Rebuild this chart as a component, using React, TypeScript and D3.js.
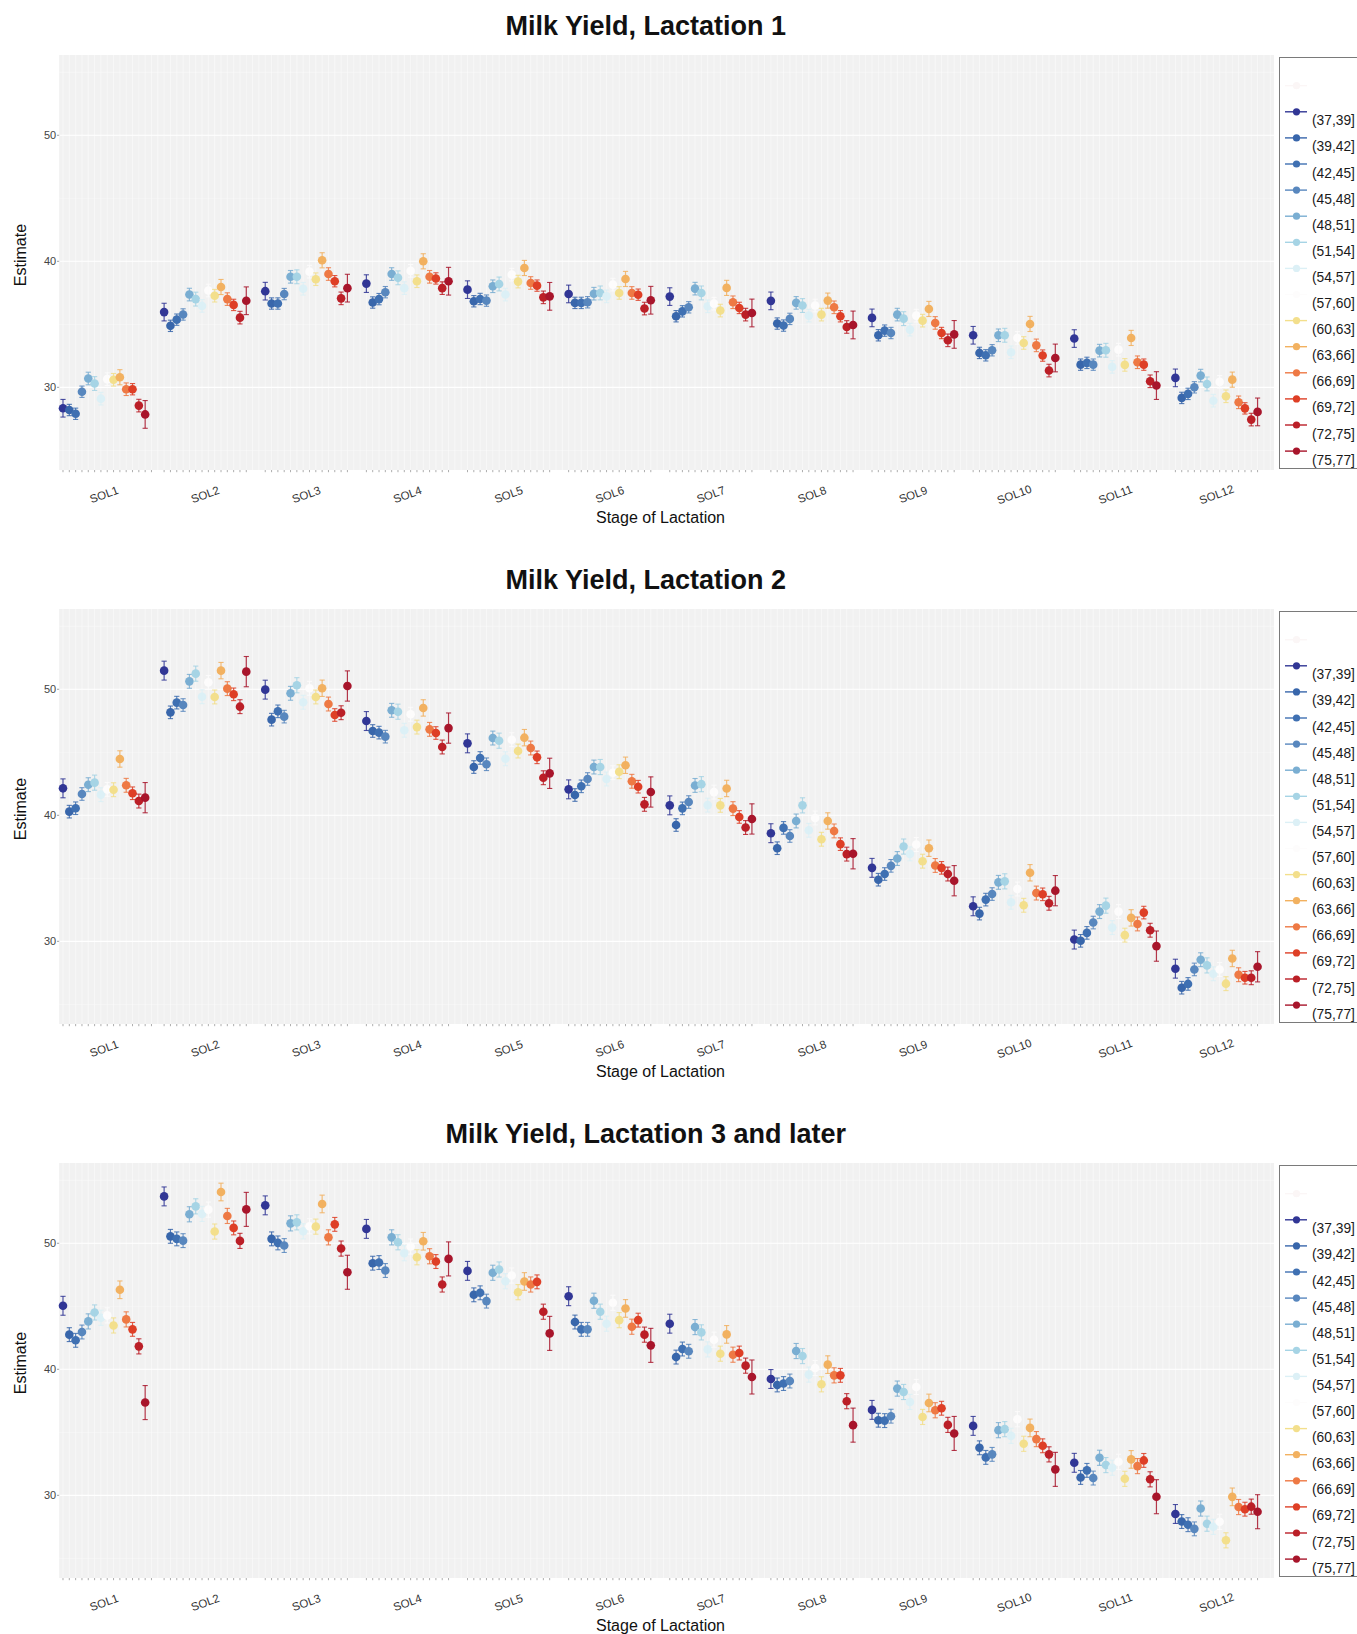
import React from "react";
import * as d3 from "d3";

// stage-of-lactation groups and THI classes
const solLabels = ["SOL1", "SOL2", "SOL3", "SOL4", "SOL5", "SOL6", "SOL7", "SOL8", "SOL9", "SOL10", "SOL11", "SOL12"];
const thiLabels = ["(37,39]", "(39,42]", "(42,45]", "(45,48]", "(48,51]", "(51,54]", "(54,57]", "(57,60]", "(60,63]", "(63,66]", "(66,69]", "(69,72]", "(72,75]", "(75,77]"];
const thiColors = ["#313695", "#3866ab", "#3f70b2", "#5887be", "#7aaed2", "#a6d4e5", "#dcf0f6", "#fdfcfc", "#f3df8c", "#f2b160", "#ee7944", "#de3f26", "#bb1f27", "#a8152b"];
const yTicks = [30, 40, 50];
const yMinor = [25, 35, 45, 55];

// estimates, one row per SOL, one value per THI class
const lact1Est = [
  [28.34, 28.2, 27.9, 29.65, 30.7, 30.3, 29.1, 30.65, 30.6, 30.8, 29.85, 29.85, 28.55, 27.85],
  [35.97, 34.88, 35.37, 35.78, 37.36, 37.0, 36.46, 37.68, 37.27, 37.96, 37.0, 36.54, 35.53, 36.87],
  [37.63, 36.65, 36.65, 37.4, 38.77, 38.77, 37.82, 39.18, 38.58, 40.08, 38.99, 38.42, 37.06, 37.87],
  [38.23, 36.73, 37.0, 37.55, 38.99, 38.69, 37.87, 39.24, 38.42, 40.0, 38.77, 38.64, 37.87, 38.42],
  [37.75, 36.83, 37.01, 36.88, 38.02, 38.2, 37.36, 38.94, 38.39, 39.47, 38.28, 38.07, 37.14, 37.22],
  [37.41, 36.7, 36.7, 36.75, 37.43, 37.49, 37.22, 38.15, 37.49, 38.6, 37.49, 37.35, 36.25, 36.91],
  [37.2, 35.64, 36.03, 36.35, 37.83, 37.49, 36.43, 36.64, 36.09, 37.89, 36.75, 36.3, 35.77, 35.9],
  [36.86, 35.06, 34.9, 35.43, 36.7, 36.49, 35.69, 36.49, 35.77, 36.88, 36.35, 35.64, 34.79, 34.95],
  [35.51, 34.13, 34.5, 34.31, 35.77, 35.45, 34.58, 35.69, 35.29, 36.22, 35.11, 34.31, 33.73, 34.2],
  [34.13, 32.73, 32.54, 32.94, 34.13, 34.13, 32.78, 33.92, 33.52, 35.03, 33.33, 32.52, 31.33, 32.33],
  [33.87, 31.8, 31.94, 31.8, 32.91, 32.94, 31.62, 32.99, 31.78, 33.92, 31.99, 31.8, 30.48, 30.14],
  [30.75, 29.16, 29.48, 30.0, 30.93, 30.27, 28.94, 30.43, 29.29, 30.61, 28.81, 28.33, 27.44, 28.05],
];
const lact2Est = [
  [42.14, 40.29, 40.56, 41.69, 42.43, 42.59, 41.64, 42.06, 42.03, 44.47, 42.38, 41.75, 41.13, 41.4],
  [51.48, 48.17, 48.94, 48.75, 50.63, 51.24, 49.41, 50.55, 49.39, 51.48, 50.05, 49.6, 48.62, 51.4],
  [49.97, 47.59, 48.25, 47.83, 49.68, 50.32, 48.97, 50.08, 49.39, 50.08, 48.83, 47.96, 48.14, 50.26],
  [47.48, 46.69, 46.56, 46.24, 48.33, 48.22, 46.75, 48.02, 47.0, 48.52, 46.82, 46.53, 45.42, 46.92],
  [45.71, 43.83, 44.55, 44.05, 46.13, 45.92, 44.49, 46.0, 45.1, 46.16, 45.34, 44.6, 42.98, 43.33],
  [42.06, 41.61, 42.3, 42.88, 43.83, 43.83, 42.88, 43.38, 43.46, 43.97, 42.7, 42.27, 40.87, 41.85],
  [40.79, 39.23, 40.55, 41.05, 42.37, 42.47, 40.81, 41.84, 40.79, 42.13, 40.53, 39.87, 39.03, 39.71],
  [38.58, 37.39, 39.0, 38.36, 39.55, 40.79, 38.81, 39.79, 38.1, 39.55, 38.76, 37.71, 36.92, 36.95],
  [35.83, 34.89, 35.34, 35.99, 36.57, 37.52, 36.94, 37.68, 36.36, 37.39, 36.02, 35.83, 35.34, 34.81],
  [32.78, 32.2, 33.31, 33.75, 34.68, 34.76, 33.1, 34.15, 32.86, 35.44, 33.83, 33.73, 33.02, 34.02],
  [30.14, 30.04, 30.67, 31.49, 32.36, 32.83, 31.09, 32.36, 30.49, 31.86, 31.38, 32.28, 30.88, 29.62],
  [27.83, 26.32, 26.62, 27.77, 28.54, 28.09, 27.43, 27.77, 26.64, 28.64, 27.35, 27.11, 27.11, 27.98],
];
const lact3Est = [
  [45.04, 42.75, 42.3, 42.96, 43.8, 44.51, 44.09, 44.28, 43.48, 46.31, 43.96, 43.17, 41.82, 37.36],
  [53.72, 50.55, 50.35, 50.21, 52.3, 52.93, 52.33, 52.67, 50.93, 54.07, 52.17, 51.22, 50.19, 52.69],
  [53.01, 50.35, 50.03, 49.82, 51.58, 51.66, 50.95, 51.35, 51.32, 53.12, 50.47, 51.5, 49.58, 47.7],
  [51.14, 48.42, 48.47, 47.84, 50.47, 50.08, 49.21, 49.74, 48.89, 50.16, 48.97, 48.55, 46.73, 48.76],
  [47.81, 45.91, 46.07, 45.41, 47.66, 47.92, 46.99, 47.44, 46.12, 46.97, 46.73, 46.94, 44.57, 42.85],
  [45.8, 43.75, 43.17, 43.17, 45.44, 44.57, 43.62, 45.28, 43.9, 44.83, 43.38, 43.9, 42.75, 41.9],
  [43.62, 40.97, 41.61, 41.43, 43.35, 42.93, 41.58, 42.35, 41.24, 42.77, 41.16, 41.29, 40.29, 39.39],
  [39.23, 38.76, 38.87, 39.07, 41.45, 41.05, 39.58, 40.1, 38.81, 40.37, 39.52, 39.52, 37.47, 35.57],
  [36.78, 35.96, 35.93, 36.28, 38.47, 38.2, 37.41, 38.6, 36.22, 37.33, 36.75, 36.91, 35.59, 34.91],
  [35.51, 33.77, 33.01, 33.25, 35.17, 35.25, 34.72, 36.04, 34.09, 35.35, 34.46, 33.93, 33.25, 32.06],
  [32.58, 31.42, 31.98, 31.37, 32.98, 32.4, 32.19, 32.66, 31.31, 32.85, 32.32, 32.77, 31.27, 29.89],
  [28.52, 27.92, 27.67, 27.34, 28.95, 27.75, 27.5, 27.9, 26.43, 29.88, 29.07, 28.9, 29.1, 28.7],
];

// half-width of the error bars per THI class
const lact1Err = [0.7, 0.45, 0.45, 0.45, 0.5, 0.55, 0.5, 0.5, 0.5, 0.6, 0.5, 0.45, 0.5, 1.1];
const lact2Err = [0.75, 0.5, 0.5, 0.5, 0.55, 0.6, 0.55, 0.55, 0.55, 0.65, 0.55, 0.5, 0.55, 1.2];
const lact3Err = [0.75, 0.55, 0.55, 0.55, 0.6, 0.6, 0.6, 0.6, 0.6, 0.7, 0.6, 0.55, 0.6, 1.35];

const FONT = "'Liberation Sans', Arial, Helvetica, sans-serif";
const SLOTS = 16; // levels per SOL on the x axis
const plotLeft = 59.2;
const plotRight = 1274;
const panelH = 415;

function Panel({ title, top, est, err }: { title: string; top: number; est: number[][]; err: number[] }) {
  const bottom = top + panelH;
  const x = d3.scaleLinear().domain([-0.6, solLabels.length * SLOTS - 1 + 0.6]).range([plotLeft, plotRight]);
  const y = d3.scaleLinear().domain([23.44, 56.37]).range([bottom, top]);
  const slots = d3.range(solLabels.length * SLOTS);
  const ticks: number[] = [];
  solLabels.forEach((_, g) => {
    const n = g === 0 ? 15 : 14;
    for (let k = 0; k < n; k++) ticks.push(g * SLOTS + k);
  });
  const legendTop = top + 30.7;
  const keyStep = 26.1;

  return (
    <g>
      <text x={645.8} y={top - 20.5} textAnchor="middle" fontFamily={FONT} fontWeight="bold" fontSize={27} fill="#111">
        {title}
      </text>
      <rect x={plotLeft} y={top} width={plotRight - plotLeft} height={panelH} fill="#f1f1f1" />
      {yMinor.map((v) => (
        <line key={"mi" + v} x1={plotLeft} x2={plotRight} y1={y(v)} y2={y(v)} stroke="#fafafa" strokeWidth={0.6} />
      ))}
      {slots.map((s) => (
        <line key={"vg" + s} x1={x(s)} x2={x(s)} y1={top} y2={bottom} stroke="#fbfbfb" strokeWidth={0.6} />
      ))}
      {yTicks.map((v) => (
        <line key={"ma" + v} x1={plotLeft} x2={plotRight} y1={y(v)} y2={y(v)} stroke="#ffffff" strokeWidth={1.1} />
      ))}
      {yTicks.map((v) => (
        <g key={"yt" + v}>
          <line x1={plotLeft - 2.2} x2={plotLeft} y1={y(v)} y2={y(v)} stroke="#888" strokeWidth={0.8} />
          <text x={plotLeft - 3} y={y(v)} dy="0.35em" textAnchor="end" fontFamily={FONT} fontSize={11} fill="#444">
            {v}
          </text>
        </g>
      ))}
      {ticks.map((s) => (
        <line key={"xt" + s} x1={x(s)} x2={x(s)} y1={bottom} y2={bottom + 2.2} stroke="#999" strokeWidth={0.8} />
      ))}
      {solLabels.map((lab, g) => {
        const cx = x(g * SLOTS + 6.5);
        const cy = bottom + 24.5;
        return (
          <text key={lab} x={cx} y={cy} dy="0.35em" textAnchor="middle" transform={`rotate(-20 ${cx} ${cy})`} fontFamily={FONT} fontSize={11.5} fill="#333">
            {lab}
          </text>
        );
      })}
      <text x={660.5} y={bottom + 52.5} textAnchor="middle" fontFamily={FONT} fontSize={16} fill="#111">
        Stage of Lactation
      </text>
      <text transform={`translate(25.5,${top + 200}) rotate(-90)`} textAnchor="middle" fontFamily={FONT} fontSize={16} fill="#111">
        Estimate
      </text>
      {est.map((row, g) =>
        row.map((v, k) => {
          const px = x(g * SLOTS + k);
          const lo = y(v - err[k]);
          const hi = y(v + err[k]);
          return (
            <g key={`p${g}-${k}`}>
              <line x1={px} x2={px} y1={lo} y2={hi} stroke={thiColors[k]} strokeWidth={1.2} opacity={0.85} />
              <line x1={px - 2.6} x2={px + 2.6} y1={lo} y2={lo} stroke={thiColors[k]} strokeWidth={1.1} opacity={0.85} />
              <line x1={px - 2.6} x2={px + 2.6} y1={hi} y2={hi} stroke={thiColors[k]} strokeWidth={1.1} opacity={0.85} />
              <circle cx={px} cy={y(v)} r={4.3} fill={thiColors[k]} />
            </g>
          );
        })
      )}
      <rect x={1279.5} y={top + 2.5} width={100} height={411} fill="#fff" stroke="#7a7a7a" strokeWidth={1} />
      <g>
        <line x1={1285} x2={1307} y1={legendTop} y2={legendTop} stroke="#fbf6f6" strokeWidth={1.4} />
        <circle cx={1296.5} cy={legendTop} r={3.6} fill="#fbf6f6" />
      </g>
      {thiLabels.map((lab, i) => {
        const ky = legendTop + (i + 1) * keyStep;
        return (
          <g key={lab}>
            <line x1={1285} x2={1307} y1={ky} y2={ky} stroke={thiColors[i]} strokeWidth={1.4} />
            <circle cx={1296.5} cy={ky} r={3.6} fill={thiColors[i]} />
            <text x={1312} y={ky + 13.5} fontFamily={FONT} fontSize={13.8} fill="#1a1a1a">
              {lab}
            </text>
          </g>
        );
      })}
    </g>
  );
}

export default function App() {
  return (
    <svg width={1357} height={1634} style={{ position: "absolute", left: 0, top: 0, background: "#fff" }}>
      <Panel title="Milk Yield, Lactation 1" top={55} est={lact1Est} err={lact1Err} />
      <Panel title="Milk Yield, Lactation 2" top={609} est={lact2Est} err={lact2Err} />
      <Panel title="Milk Yield, Lactation 3 and later" top={1163} est={lact3Est} err={lact3Err} />
    </svg>
  );
}
